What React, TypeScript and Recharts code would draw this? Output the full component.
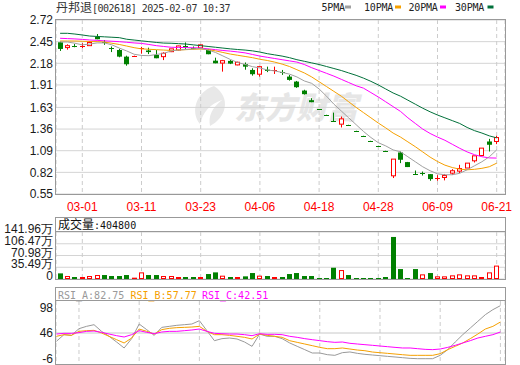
import { Bar, CartesianGrid, ComposedChart, Line, ReferenceLine, XAxis, YAxis } from "recharts";

const RED = "#ff0000";
const GREEN = "#008000";
const C_MA5 = "#a0a0a0";
const C_MA10 = "#f5a000";
const C_MA20 = "#ff00ff";
const C_MA30 = "#00703a";

// daily candles
const opens = [
  2.442, 2.376, 2.4, 2.398, 2.4, 2.51, 2.44, 2.365, 2.346, 2.263,
  2.268, 2.372, 2.34, 2.284, 2.263, 2.325, 2.346, 2.39, 2.375, 2.372,
  2.35, 2.213, 2.183, 2.21, 2.16, 2.17, 2.097, 2.044, 2.1, 2.09,
  2.07, 2.014, 1.952, 1.84, 1.72, 1.608, 1.538, 1.455, 1.421, 1.413,
  1.339, 1.276, 1.214, 1.152, 1.09, 0.777, 1.068, 0.948, 0.8, 0.815,
  0.798, 0.745, 0.756, 0.81, 0.835, 0.874, 0.964, 1.03, 1.205, 1.205,
];
const highs = [
  2.45, 2.417, 2.42, 2.43, 2.457, 2.545, 2.47, 2.39, 2.36, 2.275,
  2.275, 2.385, 2.375, 2.346, 2.317, 2.36, 2.4, 2.44, 2.39, 2.415,
  2.36, 2.25, 2.222, 2.22, 2.2, 2.19, 2.118, 2.147, 2.138, 2.138,
  2.097, 2.035, 1.96, 1.85, 1.745, 1.609, 1.539, 1.565, 1.516, 1.414,
  1.34, 1.277, 1.215, 1.153, 1.091, 0.985, 1.08, 0.95, 0.843, 0.83,
  0.798, 0.785, 0.8, 0.86, 0.914, 0.935, 1.026, 1.122, 1.238, 1.275,
];
const lows = [
  2.334, 2.35, 2.38, 2.37, 2.4, 2.48, 2.41, 2.32, 2.255, 2.15,
  2.265, 2.3, 2.295, 2.243, 2.22, 2.32, 2.34, 2.36, 2.355, 2.365,
  2.293, 2.18, 2.076, 2.17, 2.155, 2.1, 2.026, 2.014, 2.07, 2.047,
  2.035, 1.964, 1.874, 1.79, 1.695, 1.606, 1.536, 1.45, 1.38, 1.411,
  1.337, 1.274, 1.212, 1.15, 1.088, 0.749, 0.935, 0.886, 0.795, 0.78,
  0.715, 0.715, 0.72, 0.79, 0.81, 0.874, 0.943, 1.03, 1.08, 1.172,
];
const closes = [
  2.359, 2.4, 2.395, 2.4, 2.44, 2.48, 2.435, 2.36, 2.263, 2.168,
  2.272, 2.375, 2.32, 2.243, 2.305, 2.36, 2.396, 2.385, 2.37, 2.41,
  2.293, 2.18, 2.213, 2.176, 2.193, 2.138, 2.044, 2.138, 2.085, 2.1,
  2.06, 1.973, 1.882, 1.795, 1.695, 1.607, 1.537, 1.451, 1.487, 1.412,
  1.338, 1.275, 1.213, 1.151, 1.089, 0.985, 0.977, 0.886, 0.798, 0.81,
  0.736, 0.75, 0.78, 0.84, 0.868, 0.935, 1.026, 1.122, 1.164, 1.254,
];
// volume in 万 shares
const volumes = [
  17, 9, 6, 6, 9, 12, 12, 9, 9, 12,
  4, 20, 12, 12, 9, 9, 6, 6, 6, 6,
  15, 20, 10, 6, 6, 8, 18, 10, 9, 6,
  6, 15, 18, 9, 9, 3, 3, 34, 27, 12,
  3, 3, 3, 3, 6, 127, 30, 3, 30, 14,
  18, 8, 8, 11, 14, 11, 11, 6, 20, 40.48,
];
const ma5 = [
  2.446, 2.446, 2.43, 2.41, 2.42, 2.434, 2.434, 2.41, 2.37, 2.334,
  2.293, 2.278, 2.275, 2.29, 2.303, 2.334, 2.346, 2.352, 2.36, 2.365,
  2.346, 2.315, 2.272, 2.228, 2.19, 2.166, 2.138, 2.122, 2.097, 2.085,
  2.066, 2.045, 2.01, 1.96, 1.93, 1.86, 1.77, 1.67, 1.585, 1.5,
  1.415, 1.33, 1.255, 1.19, 1.15, 1.1, 1.076, 1.014, 0.952, 0.89,
  0.84, 0.802, 0.79, 0.79, 0.808, 0.852, 0.902, 0.952, 1.014, 1.1,
];
const ma10 = [
  2.458, 2.458, 2.458, 2.455, 2.452, 2.45, 2.445, 2.43, 2.415, 2.395,
  2.375, 2.36, 2.355, 2.35, 2.345, 2.34, 2.345, 2.35, 2.355, 2.358,
  2.35, 2.335, 2.315, 2.295, 2.28, 2.265, 2.25, 2.23, 2.215, 2.195,
  2.17, 2.14, 2.1, 2.06, 2.01, 1.95, 1.89, 1.83, 1.77, 1.7,
  1.63, 1.565, 1.5, 1.435, 1.375, 1.31, 1.26, 1.2, 1.14, 1.075,
  1.01, 0.955, 0.91, 0.88, 0.86, 0.852, 0.858, 0.87, 0.89, 0.935,
];
const ma20 = [
  2.492, 2.488, 2.484, 2.478, 2.471, 2.466, 2.46, 2.455, 2.45, 2.442,
  2.434, 2.428, 2.415, 2.4, 2.39, 2.38, 2.378, 2.376, 2.374, 2.37,
  2.36, 2.35, 2.34, 2.332, 2.322, 2.31, 2.29, 2.27, 2.255, 2.24,
  2.225, 2.21, 2.195, 2.165, 2.125, 2.09, 2.055, 2.02, 1.98, 1.94,
  1.9, 1.87, 1.815, 1.76, 1.7, 1.64, 1.58, 1.5, 1.43, 1.36,
  1.305, 1.26, 1.22, 1.17, 1.12, 1.075, 1.04, 1.015, 1.0, 0.998,
];
const ma30 = [
  2.554, 2.554, 2.545, 2.533, 2.52, 2.515, 2.51, 2.505, 2.5, 2.48,
  2.47, 2.46, 2.45, 2.44, 2.432, 2.43, 2.425, 2.42, 2.41, 2.4,
  2.39, 2.38, 2.37, 2.36, 2.352, 2.345, 2.335, 2.32, 2.3, 2.285,
  2.27, 2.25, 2.225, 2.205, 2.185, 2.165, 2.14, 2.115, 2.09, 2.06,
  2.03, 1.995, 1.955, 1.91, 1.86, 1.81, 1.77, 1.72, 1.67, 1.62,
  1.575, 1.535, 1.5, 1.465, 1.43, 1.38, 1.34, 1.31, 1.275, 1.25,
];
const rsiA = [
  28.9, 42.6, 41.2, 54.9, 59.7, 63.1, 49.4, 39.2, 27.5, 15.2,
  34.4, 64.5, 52.9, 41.2, 57.6, 59.7, 61.8, 63.1, 64.5, 71.3,
  50.8, 30.2, 34.4, 35.7, 33.7, 27.5, 18.6, 43.9, 39.2, 39.2,
  34.4, 25.5, 18.6, 11.8, 4.9, 4.9, 1.5, 0.1, 5.6, 7.0,
  4.2, 2.2, 0.8, -0.6, -2.0, -3.3, -4.7, -6.1, -6.8, -6.8,
  -6.8, 0.1, 11.8, 27.5, 42.6, 56.3, 70.0, 83.7, 94.0, 102.2,
];
const rsiB = [
  39.2, 42.6, 41.2, 49.4, 50.8, 51.5, 46.0, 39.2, 32.3, 25.5,
  35.7, 54.2, 49.4, 43.9, 52.9, 55.6, 57.0, 57.6, 58.3, 59.7,
  49.4, 42.6, 42.6, 41.2, 39.2, 37.1, 33.7, 43.9, 41.2, 39.2,
  37.1, 30.2, 26.8, 23.4, 20.0, 16.5, 13.8, 13.8, 15.2, 13.1,
  11.0, 9.6, 6.9, 5.5, 4.2, 2.8, 1.4, 0.1, 0.1, 0.1,
  0.1, 3.5, 11.8, 18.6, 25.5, 34.4, 43.9, 54.2, 59.7, 68.6,
];
const rsiC = [
  43.9, 45.3, 45.3, 46.7, 49.4, 50.1, 47.4, 43.9, 40.5, 37.8,
  42.6, 50.8, 47.4, 44.6, 48.1, 49.4, 49.4, 50.8, 52.2, 54.2,
  49.4, 45.3, 44.6, 43.9, 43.9, 42.6, 40.5, 44.6, 43.3, 43.3,
  42.6, 39.2, 37.1, 34.4, 32.3, 30.3, 28.2, 26.8, 27.5, 24.8,
  23.4, 22.0, 20.7, 19.3, 17.9, 16.5, 15.2, 15.2, 13.8, 12.4,
  11.8, 13.1, 16.5, 20.7, 25.5, 30.3, 35.7, 39.2, 42.6, 48.1,
];

const dateTickIdx = [3, 11, 19, 27, 35, 43, 51, 59];
const dateTickLabels = ["03-01", "03-11", "03-23", "04-06", "04-18", "04-28", "06-09", "06-21"];
const priceTickLabels = ["2.72", "2.45", "2.18", "1.91", "1.63", "1.36", "1.09", "0.82", "0.55"];
const volTicks = [0, 35.49, 70.98, 106.47, 141.96];
const volTickLabels = ["0", "35.49万", "70.98万", "106.47万", "141.96万"];
const rsiTicks = [98, 46, -6];

const rows = opens.map((o, i) => ({
  i,
  open: o,
  high: highs[i],
  low: lows[i],
  close: closes[i],
  vol: volumes[i],
  volUp: i > 0 && closes[i] >= closes[i - 1],
  ma5: ma5[i],
  ma10: ma10[i],
  ma20: ma20[i],
  ma30: ma30[i],
  rsiA: rsiA[i],
  rsiB: rsiB[i],
  rsiC: rsiC[i],
}));

const W = 520;
const MARGIN_R = 15;
const AXIS_W = 56;
const XPAD = { left: 0.4, right: 4.6 };
const AXIS_FONT = '"Liberation Sans", Arial, sans-serif';
const MONO = '"DejaVu Sans Mono", monospace';

function Candle(props: any) {
  const { x, y, width, height, payload } = props;
  if (x == null || !payload) return null;
  const { open, close, high, low } = payload;
  const span = high - low;
  const py = (v: number) => (span > 0 ? y + ((high - v) / span) * height : y);
  const up = close >= open;
  const color = up ? RED : GREEN;
  const left = Math.round(x + width / 2 - 2.5);
  const cx = left + 2.5;
  const top = py(Math.max(open, close));
  const bot = py(Math.min(open, close));
  if (bot - top < 1.2) {
    const yy = Math.round(top) + 0.5;
    return (
      <g>
        <line x1={cx} x2={cx} y1={py(high)} y2={py(low)} stroke={color} />
        <line x1={left} x2={left + 5} y1={yy} y2={yy} stroke={color} />
      </g>
    );
  }
  if (up) {
    return (
      <g>
        <line x1={cx} x2={cx} y1={py(high)} y2={top} stroke={color} />
        <line x1={cx} x2={cx} y1={bot} y2={py(low)} stroke={color} />
        <rect x={left + 0.5} y={top} width={4} height={bot - top} fill="#fff" stroke={color} />
      </g>
    );
  }
  return (
    <g>
      <line x1={cx} x2={cx} y1={py(high)} y2={py(low)} stroke={color} />
      <rect x={left} y={top} width={5} height={bot - top} fill={color} />
    </g>
  );
}

function VolBar(props: any) {
  const { x, y, width, height, payload } = props;
  if (x == null || !payload) return null;
  const left = Math.round(x + width / 2 - 2.5);
  if (payload.volUp) {
    return <rect x={left + 0.5} y={y + 0.5} width={4} height={Math.max(height - 1, 0.5)} fill="#fff" stroke={RED} />;
  }
  return <rect x={left} y={y} width={5} height={height} fill={GREEN} />;
}

function VolTick(props: any) {
  const { x, y, payload } = props;
  const k = volTicks.indexOf(payload.value);
  return (
    <text x={x} y={y - 3} textAnchor="end" dominantBaseline="central" fontSize={12} fill="#1a1a1a" fontFamily={AXIS_FONT}>
      {volTickLabels[k]}
    </text>
  );
}

const yTickStyle = { fontSize: 12, fill: "#1a1a1a", fontFamily: AXIS_FONT };

function MainChart() {
  return (
    <ComposedChart width={W} height={215} data={rows} margin={{ top: 20, right: MARGIN_R, bottom: 0, left: 0 }}>
      <CartesianGrid vertical={false} stroke="#d4d4d4" />
      <CartesianGrid horizontal={false} stroke="#cccccc" strokeDasharray="4 3" />
      <XAxis
        dataKey="i"
        type="category"
        padding={XPAD}
        ticks={dateTickIdx}
        interval={0}
        tickFormatter={(v) => dateTickLabels[dateTickIdx.indexOf(Number(v))] ?? ""}
        axisLine={false}
        tickLine={false}
        tickSize={0}
        tickMargin={8}
        height={21}
        tick={{ fontSize: 12, fill: RED, fontFamily: AXIS_FONT }}
      />
      <YAxis
        type="number"
        domain={[0.55, 2.72]}
        ticks={priceTickLabels.map(Number)}
        tickFormatter={(v) => priceTickLabels[priceTickLabels.map(Number).indexOf(Number(v))] ?? ""}
        interval={0}
        allowDataOverflow
        width={AXIS_W}
        axisLine={false}
        tickLine={false}
        tickSize={0}
        tickMargin={3}
        tick={yTickStyle}
      />
      <Line dataKey="ma30" stroke={C_MA30} strokeWidth={1} dot={false} activeDot={false} isAnimationActive={false} />
      <Line dataKey="ma20" stroke={C_MA20} strokeWidth={1} dot={false} activeDot={false} isAnimationActive={false} />
      <Line dataKey="ma10" stroke={C_MA10} strokeWidth={1} dot={false} activeDot={false} isAnimationActive={false} />
      <Line dataKey="ma5" stroke={C_MA5} strokeWidth={1} dot={false} activeDot={false} isAnimationActive={false} />
      <Bar dataKey={(d: any) => [d.low, d.high]} shape={Candle} isAnimationActive={false} />
    </ComposedChart>
  );
}

function VolumeChart() {
  return (
    <ComposedChart width={W} height={70} data={rows} margin={{ top: 15, right: MARGIN_R, bottom: 8, left: 0 }}>
      <CartesianGrid vertical={false} stroke="#d4d4d4" />
      <CartesianGrid horizontal={false} stroke="#cccccc" strokeDasharray="4 3" />
      <XAxis dataKey="i" type="category" padding={XPAD} ticks={dateTickIdx} interval={0} hide />
      <YAxis
        type="number"
        domain={[0, 141.96]}
        ticks={volTicks}
        interval={0}
        allowDataOverflow
        width={AXIS_W}
        axisLine={false}
        tickLine={false}
        tickSize={0}
        tickMargin={3}
        tick={<VolTick />}
      />
      <Bar dataKey="vol" shape={VolBar} isAnimationActive={false} />
    </ComposedChart>
  );
}

function RsiChart() {
  return (
    <ComposedChart width={W} height={82} data={rows} margin={{ top: 13, right: MARGIN_R, bottom: 6, left: 0 }}>
      <CartesianGrid horizontal={false} stroke="#cccccc" strokeDasharray="4 3" />
      <XAxis dataKey="i" type="category" padding={XPAD} ticks={dateTickIdx} interval={0} hide />
      <YAxis
        type="number"
        domain={[-17.7, 111.8]}
        ticks={rsiTicks}
        interval={0}
        allowDataOverflow
        width={AXIS_W}
        axisLine={false}
        tickLine={false}
        tickSize={0}
        tickMargin={3}
        tick={yTickStyle}
      />
      <ReferenceLine y={46} stroke="#c8c8c8" />
      <Line dataKey="rsiA" stroke="#999999" strokeWidth={1} dot={false} activeDot={false} isAnimationActive={false} />
      <Line dataKey="rsiB" stroke={C_MA10} strokeWidth={1} dot={false} activeDot={false} isAnimationActive={false} />
      <Line dataKey="rsiC" stroke={C_MA20} strokeWidth={1} dot={false} activeDot={false} isAnimationActive={false} />
    </ComposedChart>
  );
}

function Watermark() {
  return (
    <svg width={W} height={365} style={{ position: "absolute", left: 0, top: 0 }}>
      <path d="M214 86 C196 92 190 112 200 124 C203 112 210 104 222 100 C212 108 208 116 210 126 C226 118 232 98 214 86 Z" fill="#e8e8e8" />
      <text x={234} y={119} fontSize={31} fontWeight={900} fontStyle="italic" fill="#e6e6e6" fontFamily='"Noto Sans CJK SC", sans-serif'>
        东方财富
      </text>
    </svg>
  );
}

function Overlay() {
  const legend = [
    { label: "5PMA", x: 321.5, sx: 345, color: C_MA5 },
    { label: "10PMA", x: 364, sx: 395, color: C_MA10 },
    { label: "20PMA", x: 408.5, sx: 440, color: C_MA20 },
    { label: "30PMA", x: 455, sx: 487.5, color: C_MA30 },
  ];
  return (
    <svg width={W} height={365} style={{ position: "absolute", left: 0, top: 0, pointerEvents: "none" }}>
      <text x={56} y={12} fill="#333">
        <tspan fontSize={12} fontFamily='"Noto Sans CJK SC", sans-serif'>丹邦退</tspan>
        <tspan fontSize={10} fontFamily={MONO} letterSpacing={-0.5}>[002618] 2025-02-07 10:37</tspan>
      </text>
      {legend.map((l) => (
        <g key={l.label}>
          <text x={l.x} y={11} fontSize={10} fontFamily={MONO} letterSpacing={-0.2} fill="#222">
            {l.label}
          </text>
          <rect x={l.sx} y={5.5} width={6} height={3} fill={l.color} />
        </g>
      ))}
      <rect x={55.5} y={19.5} width={450} height={175} fill="none" stroke="#999" />
      <rect x={55.5} y={217.5} width={450} height={62} fill="none" stroke="#999" />
      <line x1={55.5} x2={505.5} y1={231.5} y2={231.5} stroke="#999" />
      <text x={58} y={229} fill="#111">
        <tspan fontSize={12} fontFamily='"Noto Sans CJK SC", sans-serif'>成交量</tspan>
        <tspan fontSize={10} fontFamily={MONO}>:404800</tspan>
      </text>
      <rect x={55.5} y={287.5} width={450} height={77} fill="none" stroke="#999" />
      <line x1={55.5} x2={505.5} y1={300.5} y2={300.5} stroke="#999" />
      <text y={298.5} fontSize={10} fontFamily={MONO}>
        <tspan x={58} fill="#999">RSI_A:82.75</tspan>
        <tspan x={130.5} fill={C_MA10}>RSI_B:57.77</tspan>
        <tspan x={202} fill={C_MA20}>RSI_C:42.51</tspan>
      </text>
    </svg>
  );
}

export default function App() {
  return (
    <div style={{ position: "absolute", left: 0, top: 0, width: W, height: 365, background: "#fff", overflow: "hidden", fontFamily: AXIS_FONT }}>
      <Watermark />
      <div style={{ position: "absolute", left: 0, top: 0 }}>
        <MainChart />
      </div>
      <div style={{ position: "absolute", left: 0, top: 217 }}>
        <VolumeChart />
      </div>
      <div style={{ position: "absolute", left: 0, top: 288 }}>
        <RsiChart />
      </div>
      <Overlay />
    </div>
  );
}
